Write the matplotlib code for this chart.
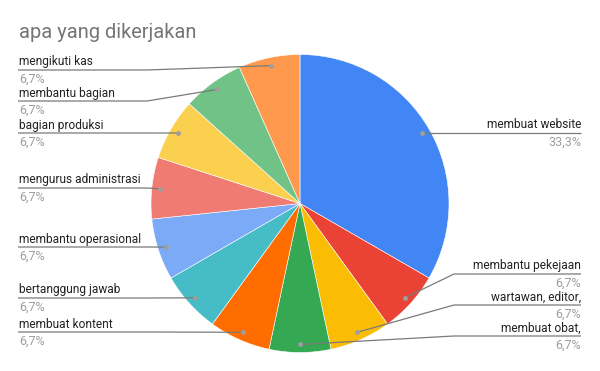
import matplotlib
matplotlib.use("Agg")
import matplotlib.pyplot as plt
import numpy as np

title = "apa yang dikerjakan"
categories = ["membuat website", "membantu pekejaan", "wartawan, editor,", "membuat obat,",
              "membuat kontent", "bertanggung jawab", "membantu operasional",
              "mengurus administrasi", "bagian produksi", "membantu bagian", "mengikuti kas"]
values = [5, 1, 1, 1, 1, 1, 1, 1, 1, 1, 1]
pct_labels = ["33,3%"] + ["6,7%"] * 10
colors = ["#4285F4", "#EA4335", "#FBBC04", "#34A853", "#FF6D01", "#46BDC6",
          "#7BAAF7", "#F07B72", "#FCD04F", "#71C287", "#FF994D"]

# layout (pixel coordinates, y from top)
W, H = 600, 371
cx, cy, R = 300, 203.5, 149
label_side = ["R", "R", "R", "R", "L", "L", "L", "L", "L", "L", "L"]
label_line_y = [133, 274, 305, 336, 332, 298, 247, 188, 133, 101, 70]

plt.rcParams['font.family'] = ['Roboto', 'DejaVu Sans']
fig = plt.figure(figsize=(W / 100, H / 100), dpi=100)
ax = fig.add_axes([0, 0, 1, 1])

wedges, _ = ax.pie(values, colors=colors, startangle=90, counterclock=False,
                   center=(cx, H - cy), radius=R,
                   wedgeprops=dict(edgecolor="white", linewidth=0.4))
ax.set_xlim(0, W)
ax.set_ylim(0, H)
ax.set_aspect('auto')
ax.axis('off')

line_col = "#7a7a7a"
lab_fs, pct_fs = 8.6, 9
for w, lab, pct, side, ly in zip(wedges, categories, pct_labels, label_side, label_line_y):
    mid = np.deg2rad((w.theta1 + w.theta2) / 2)
    dx = cx + 0.946 * R * np.cos(mid)
    dy = (H - cy) + 0.946 * R * np.sin(mid)
    yl = H - ly
    if side == "L":
        x0, xe = 18, 147
        ax.plot([x0, xe, dx], [yl, yl, dy], color=line_col, lw=0.9, solid_capstyle='butt')
        ax.text(19, yl + 4.5, lab, ha='left', va='baseline', fontsize=lab_fs, color="#222222")
        ax.text(19, yl - 12.5, pct, ha='left', va='baseline', fontsize=pct_fs, color="#9e9e9e")
    else:
        x0, xe = 581, 454
        if lab == "membuat website":
            xe = dx
        ax.plot([x0, xe, dx], [yl, yl, dy], color=line_col, lw=0.9, solid_capstyle='butt')
        ax.text(581, yl + 4.5, lab, ha='right', va='baseline', fontsize=lab_fs, color="#222222")
        ax.text(581, yl - 12.5, pct, ha='right', va='baseline', fontsize=pct_fs, color="#9e9e9e")
    ax.plot([dx], [dy], 'o', color="#9e9e9e", markersize=3.5, markeredgewidth=0)

ax.text(19, H - 38, title, ha='left', va='baseline', fontsize=14.4, color="#757575")

fig.savefig("out.png", dpi=100, facecolor="white")
